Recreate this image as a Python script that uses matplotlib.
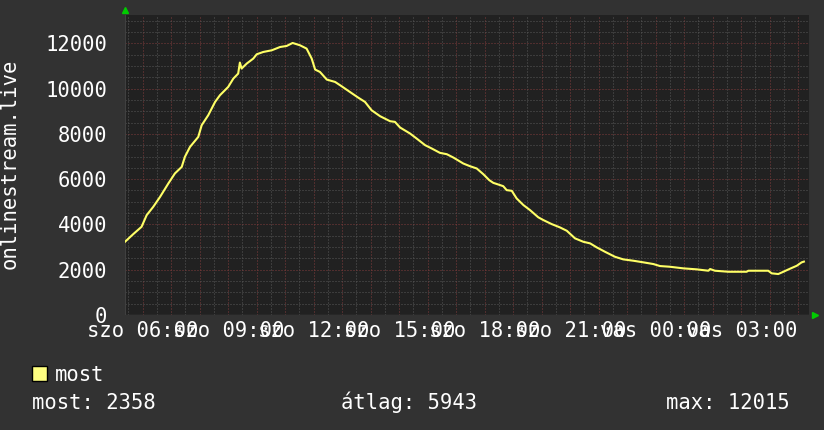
import matplotlib as mpl
import matplotlib.pyplot as plt

# ora (szombat 00:00-tol), nezok szama
hours = [5.38, 5.67, 5.96, 6.14, 6.37, 6.61, 6.90, 7.13, 7.37, 7.48, 7.66, 7.95, 8.07, 8.30,
         8.54, 8.71, 9.00, 9.18, 9.35, 9.41, 9.47, 9.65, 9.88, 10.00, 10.23, 10.53, 10.82,
         11.05, 11.26, 11.52, 11.75, 11.93, 12.05, 12.22, 12.46, 12.75, 12.98, 13.27, 13.56,
         13.80, 14.03, 14.33, 14.68, 14.85, 15.03, 15.38, 15.61, 15.91, 16.14, 16.43, 16.67,
         16.90, 17.25, 17.48, 17.72, 17.95, 18.16, 18.30, 18.65, 18.77, 18.95, 19.12, 19.36,
         19.59, 19.88, 20.06, 20.35, 20.64, 20.88, 21.17, 21.46, 21.70, 21.93, 22.22, 22.57,
         22.86, 23.22, 23.57, 23.92, 24.15, 24.50, 24.97, 25.44, 25.85, 25.91, 26.08, 26.55,
         27.19, 27.25, 27.95, 28.07, 28.30, 28.48, 28.71, 28.95, 29.12, 29.20]
viewers = [3235, 3574, 3896, 4412, 4778, 5219, 5810, 6252, 6543, 6984, 7425, 7866, 8383, 8824,
           9411, 9706, 10073, 10441, 10662, 11149, 10884, 11105, 11325, 11515, 11617, 11692, 11837,
           11882, 12015, 11912, 11767, 11325, 10840, 10735, 10397, 10294, 10103, 9852, 9603,
           9411, 9044, 8780, 8559, 8530, 8281, 8016, 7796, 7500, 7355, 7161, 7102,
           6955, 6690, 6574, 6472, 6221, 5956, 5837, 5691, 5515, 5485, 5149, 4853,
           4633, 4315, 4191, 4015, 3869, 3721, 3384, 3234, 3163, 2987, 2793, 2572,
           2457, 2396, 2325, 2250, 2162, 2131, 2060, 2016, 1955, 2030, 1955, 1910,
           1910, 1955, 1955, 1840, 1809, 1910, 2043, 2175, 2325, 2358]

xtick_pos = [6, 9, 12, 15, 18, 21, 24, 27]
xtick_labels = ["szo 06:00", "szo 09:00", "szo 12:00", "szo 15:00",
                "szo 18:00", "szo 21:00", "vas 00:00", "vas 03:00"]
ytick_pos = [0, 2000, 4000, 6000, 8000, 10000, 12000]
stats = ["most: 2358", "átlag: 5943", "max: 12015"]

W, H = 824, 430
bg = "#323232"
plotbg = "#212121"
line_col = "#ffff66"
mpl.rcParams['font.family'] = 'DejaVu Sans Mono'

fig = plt.figure(figsize=(W / 100, H / 100), dpi=100, facecolor=bg)
# rajzterulet: x 125..809, y 15..315 pixel
ax = fig.add_axes([125 / W, (H - 315) / H, 684 / W, 300 / H])
ax.set_facecolor(plotbg)
x0, x1 = 5.379, 5.379 + 24
ax.set_xlim(x0, x1)
ax.set_ylim(0, 13250)

# racs: szurke felorankent / 500-anket, piros orankent / 2000-enkent
h = 5.5
while h < x1:
    col = "#803c3c" if h == int(h) else "#575757"
    ax.axvline(h, color=col, lw=0.72, ls=(0, (1, 2)), zorder=1)
    h += 0.5
for v in range(500, 13250, 500):
    col = "#803c3c" if v % 2000 == 0 else "#575757"
    ax.axhline(v, color=col, lw=0.72, ls=(0, (1, 2)), zorder=1)

ax.plot(hours, viewers, color=line_col, lw=1.5, zorder=3)

for s in ax.spines.values():
    s.set_visible(False)
ax.axhline(0, color="#404040", lw=1, zorder=2)
ax.axvline(x0, color="#404040", lw=1.5, zorder=2)

ax.set_xticks(xtick_pos)
ax.set_xticklabels(xtick_labels)
ax.set_yticks(ytick_pos)
ax.set_yticklabels([str(v) for v in ytick_pos])
ax.tick_params(axis="x", length=0, pad=4, labelsize=14.8, colors="white")
ax.tick_params(axis="y", length=0, pad=13, labelsize=14.8, colors="white")

# zold nyilak
ax.plot([0], [1.017], marker="^", color="#00cc00", ms=5, transform=ax.transAxes, clip_on=False)
ax.plot([1.009], [0], marker=">", color="#00cc00", ms=5, transform=ax.transAxes, clip_on=False)

fig.text(10 / W, 1 - 164 / H, "onlinestream.live", rotation=90, ha="center", va="center",
         color="white", fontsize=14.8)

# jelmagyarazat
fig.patches.append(mpl.patches.Rectangle((32 / W, 1 - 381 / H), 15 / W, 15 / H,
                                         transform=fig.transFigure, facecolor="#ffff80",
                                         edgecolor="black", lw=1))
fig.text(55 / W, 1 - 381 / H, "most", color="white", fontsize=14.8, va="baseline")
fig.text(32 / W, 1 - 409 / H, stats[0], color="white", fontsize=14.8, va="baseline")
fig.text(341 / W, 1 - 409 / H, stats[1], color="white", fontsize=14.8, va="baseline")
fig.text(790 / W, 1 - 409 / H, stats[2], color="white", fontsize=14.8, va="baseline", ha="right")

plt.savefig("out.png", dpi=100, facecolor=bg)
